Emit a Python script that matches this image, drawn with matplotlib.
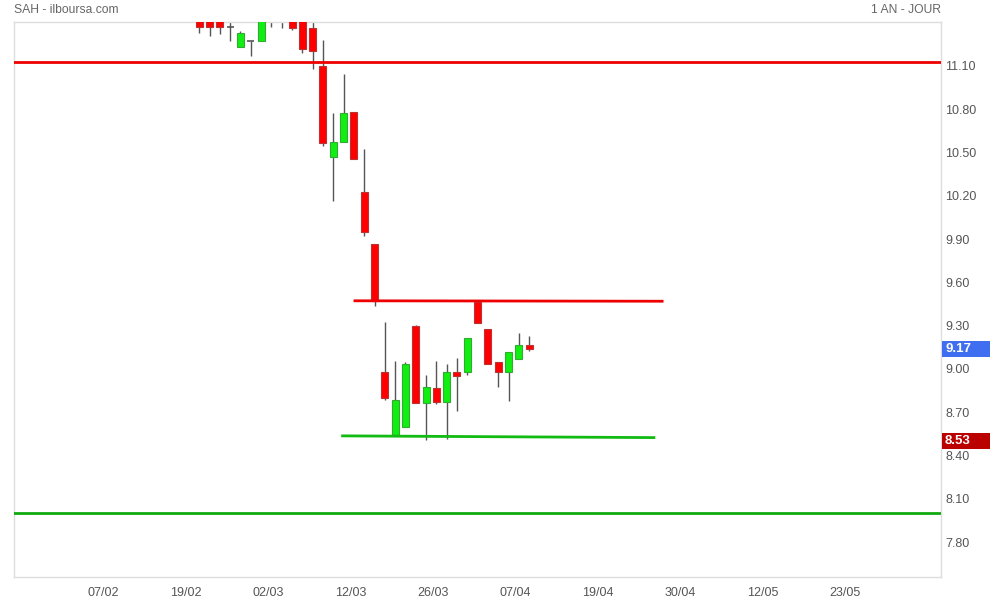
import matplotlib
matplotlib.use("Agg")
import matplotlib.pyplot as plt
import matplotlib.transforms as mtransforms
from matplotlib.patches import Rectangle
import numpy as np

# ---- data ----
opens  = [11.47, 11.46, 11.45, 11.40, 11.26, 11.30, 11.30, 11.47, 11.47, 11.45, 11.44, 11.39,
          11.13, 10.50, 10.60, 10.81, 10.255, 9.90, 9.01, 8.575, 8.626, 9.328, 8.793, 8.897,
          8.804, 9.008, 9.008, 9.495, 9.306, 9.077, 9.008, 9.098, 9.195]
highs  = [11.49, 11.48, 11.47, 11.46, 11.373, 11.30, 11.52, 11.52, 11.52, 11.47, 11.46, 11.45,
          11.31, 10.807, 11.075, 10.81, 10.553, 9.90, 9.356, 9.086, 9.081, 9.335, 8.989, 9.086,
          9.065, 9.107, 9.243, 9.495, 9.306, 9.077, 9.146, 9.280, 9.259]
lows   = [11.357, 11.340, 11.354, 11.306, 11.26, 11.202, 11.30, 11.403, 11.396, 11.382, 11.218, 11.107,
          10.575, 10.197, 10.60, 10.484, 9.954, 9.469, 8.818, 8.575, 8.626, 8.793, 8.541, 8.790,
          8.547, 8.742, 8.991, 9.347, 9.063, 8.908, 8.811, 9.098, 9.157]
closes = [11.40, 11.40, 11.40, 11.40, 11.359, 11.30, 11.50, 11.49, 11.48, 11.396, 11.246, 11.236,
          10.599, 10.602, 10.803, 10.484, 9.982, 9.504, 8.832, 8.814, 9.065, 8.793, 8.904, 8.804,
          9.008, 8.984, 9.243, 9.347, 9.063, 9.008, 9.146, 9.195, 9.171]

x_labels = ["07/02", "19/02", "02/03", "12/03", "26/03", "07/04", "19/04", "30/04", "12/05", "23/05"]
x_label_pos = [-9.35, -1.35, 6.65, 14.65, 22.65, 30.65, 38.65, 46.65, 54.65, 62.65]

y_ticks = [7.80, 8.10, 8.40, 8.70, 9.00, 9.30, 9.60, 9.90, 10.20, 10.50, 10.80, 11.10]

resistance_long = 11.16
support_long = 8.03
resistance_x = [15.1, 44.9]
resistance_y = [9.503, 9.50]
support_x = [13.9, 44.1]
support_y = [8.567, 8.555]

last_price = 9.17
low_marker = 8.53

# ---- figure ----
fig = plt.figure(figsize=(9.9, 6.0), dpi=100)
ax = fig.add_axes([14/990, 23/600, 927/990, 555/600])
ax.set_xlim(-17.97, 71.95)
ax.set_ylim(7.589, 11.435)

for s in ax.spines.values():
    s.set_color("#dddddd")
    s.set_linewidth(1)

x = np.arange(len(opens))
o = np.array(opens); c = np.array(closes); h = np.array(highs); l = np.array(lows)
up = c > o
down = c < o
flat = c == o

ax.vlines(x, l, h, color="#555555", linewidth=1, zorder=2)
w = 0.68
ax.bar(x[up], (c - o)[up], bottom=o[up], width=w, color="#11ee11", edgecolor="#33aa33",
       linewidth=0.8, zorder=3)
ax.bar(x[down], (c - o)[down], bottom=o[down], width=w, color="#ff0000", edgecolor="#bb3333",
       linewidth=0.8, zorder=3)
ax.hlines(o[flat], x[flat] - w/2, x[flat] + w/2, color="#555555", linewidth=1.2, zorder=3)

ax.axhline(resistance_long, color="#ee0000", linewidth=2, zorder=4)
ax.axhline(support_long, color="#11aa11", linewidth=2, zorder=4)
ax.plot(resistance_x, resistance_y, color="#ee0000", linewidth=2, zorder=4)
ax.plot(support_x, support_y, color="#11bb11", linewidth=2, zorder=4)

ax.yaxis.tick_right()
ax.set_yticks(y_ticks, [f"{v:.2f}" for v in y_ticks], va="baseline")
ax.tick_params(axis="y", length=0, pad=3, labelsize=9, labelcolor="#555555")
for lbl in ax.get_yticklabels():
    lbl.set_fontfamily(["Liberation Sans", "DejaVu Sans"])

ax.set_xticks(x_label_pos, x_labels)
ax.tick_params(axis="x", length=0, pad=7, labelsize=9, labelcolor="#555555")
for lbl in ax.get_xticklabels():
    lbl.set_fontfamily(["Liberation Sans Narrow", "Liberation Sans", "DejaVu Sans"])

# value boxes on the right
trans = mtransforms.blended_transform_factory(fig.transFigure, ax.transData)
box_h = 16 / 144.3
for val, col in [(last_price, "#3f6ff0"), (low_marker, "#bb0000")]:
    r = Rectangle((942/990, val - box_h/2), 48/990, box_h, transform=trans,
                  facecolor=col, edgecolor="none", clip_on=False, zorder=5)
    fig.add_artist(r)
    fig.text(945/990, val, f"{val:.2f}", transform=trans, color="white",
             fontsize=9.5, fontweight="bold", va="center", ha="left",
             family=["Liberation Sans", "DejaVu Sans"], zorder=6)

fig.text(14/990, 1 - 10/600, "SAH - ilboursa.com", color="#666666", fontsize=8.7,
         va="center", ha="left", family=["Liberation Sans", "DejaVu Sans"])
fig.text(941/990, 1 - 10/600, "1 AN - JOUR", color="#666666", fontsize=8.7,
         va="center", ha="right", family=["Liberation Sans", "DejaVu Sans"])

fig.savefig("out.png", dpi=100)
